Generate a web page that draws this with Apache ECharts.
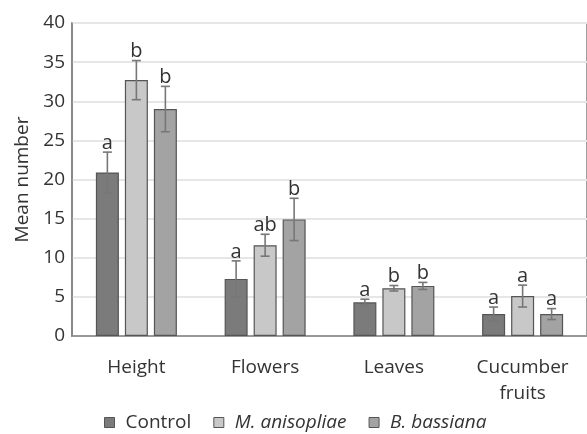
<!DOCTYPE html>
<html>
<head>
<meta charset="utf-8">
<script src="https://cdn.jsdelivr.net/npm/echarts@6/dist/echarts.min.js"></script>
<style>
  html, body { margin: 0; padding: 0; background: #fff; }
  #main { width: 587px; height: 434px; }
</style>
</head>
<body>
<div id="main"></div>
<script>
// data
var categories = ['Height', 'Flowers', 'Leaves', 'Cucumber\nfruits'];
var seriesNames = ['Control', 'M. anisopliae', 'B. bassiana'];
var control = [20.9, 7.3, 4.3, 2.8];
var anisopliae = [32.7, 11.6, 6.1, 5.1];
var bassiana = [29.0, 14.9, 6.4, 2.8];
// error bar half-lengths
var controlErr = [2.6, 2.3, 0.4, 0.9];
var anisopliaeErr = [2.5, 1.4, 0.35, 1.4];
var bassianaErr = [2.9, 2.7, 0.45, 0.7];
// significance letters
var controlLetters = ['a', 'a', 'a', 'a'];
var anisopliaeLetters = ['b', 'ab', 'b', 'a'];
var bassianaLetters = ['b', 'b', 'b', 'a'];
var yTicks = [0, 5, 10, 15, 20, 25, 30, 35, 40];

var values = [control, anisopliae, bassiana];
var errs = [controlErr, anisopliaeErr, bassianaErr];
var letters = [controlLetters, anisopliaeLetters, bassianaLetters];
var colors = ['#7b7b7b', '#c8c8c8', '#a3a3a3'];
var font = '"Open Sans", sans-serif';

var BAR_W = 23, BAR_STEP = 29;

var errData = [];
for (var s = 0; s < 3; s++) {
  for (var i = 0; i < categories.length; i++) {
    errData.push([i, values[s][i] - errs[s][i], values[s][i] + errs[s][i], s, letters[s][i]]);
  }
}

function renderErr(params, api) {
  var s = api.value(3);
  var off = (s - 1) * BAR_STEP;
  var lo = api.coord([api.value(0), api.value(1)]);
  var hi = api.coord([api.value(0), api.value(2)]);
  var x = lo[0] + off;
  var cap = 4.5;
  var st = { stroke: '#777', lineWidth: 1.6 };
  return {
    type: 'group',
    children: [
      { type: 'line', shape: { x1: x, y1: lo[1], x2: x, y2: hi[1] }, style: st },
      { type: 'line', shape: { x1: x - cap, y1: hi[1], x2: x + cap, y2: hi[1] }, style: st },
      { type: 'line', shape: { x1: x - cap, y1: lo[1], x2: x + cap, y2: lo[1] }, style: st },
      { type: 'text', x: x, y: hi[1] + 1, style: {
          text: api.value(4), fill: '#333', font: '20px ' + font,
          textAlign: 'center', textVerticalAlign: 'bottom' } }
    ]
  };
}

var myChart = echarts.init(document.getElementById('main'));

var barSeries = seriesNames.map(function (name, s) {
  return {
    name: name,
    type: 'bar',
    data: values[s],
    barWidth: BAR_W,
    barGap: ((BAR_STEP - BAR_W) / BAR_W * 100) + '%',
    itemStyle: { color: colors[s], borderColor: '#555', borderWidth: 1.2 },
    emphasis: { disabled: true }
  };
});

var legendText = { fontSize: 19, color: '#333', fontFamily: font, padding: [0, 0, 0, 6] };

var option = {
  animation: false,
  textStyle: { fontFamily: font },
  grid: {
    left: 72, top: 23, width: 525, height: 313,
    show: true, borderColor: '#808080', borderWidth: 1.5
  },
  legend: {
    top: 408,
    left: 99,
    itemWidth: 10,
    itemHeight: 10,
    itemGap: 22,
    icon: 'rect',
    data: [
      { name: 'Control', itemStyle: { borderColor: '#555', borderWidth: 1 } },
      { name: 'M. anisopliae', textStyle: { fontStyle: 'italic' }, itemStyle: { borderColor: '#555', borderWidth: 1 } },
      { name: 'B. bassiana', textStyle: { fontStyle: 'italic' }, itemStyle: { borderColor: '#555', borderWidth: 1 } }
    ],
    textStyle: legendText
  },
  xAxis: {
    type: 'category',
    data: categories,
    axisTick: { show: false },
    axisLine: { lineStyle: { color: '#808080', width: 1.5 } },
    axisLabel: { fontSize: 19, color: '#333', margin: 19, lineHeight: 26, fontFamily: font }
  },
  yAxis: {
    type: 'value',
    min: 0, max: 40, interval: 5,
    name: 'Mean number',
    nameLocation: 'middle',
    nameGap: 40,
    nameTextStyle: { fontSize: 19, color: '#333', fontFamily: font },
    axisLine: { show: true, lineStyle: { color: '#808080', width: 1.5 } },
    axisTick: { show: false },
    axisLabel: {
      fontSize: 19, color: '#333', margin: 7, fontFamily: font,
      formatter: function (v) { return yTicks.indexOf(v) >= 0 ? String(v) : ''; }
    },
    splitLine: { lineStyle: { color: '#e6e6e6', width: 2 } }
  },
  series: barSeries.concat([{
    type: 'custom',
    renderItem: renderErr,
    data: errData,
    encode: { x: 0, y: [1, 2] },
    z: 10,
    silent: true
  }])
};

myChart.setOption(option);
</script>
</body>
</html>
